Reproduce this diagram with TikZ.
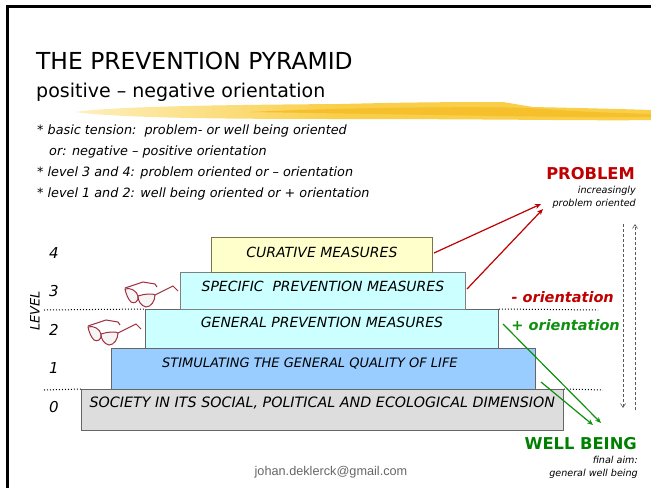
\documentclass[tikz,border=0pt]{standalone}
\usepackage{fontspec}
\setmainfont{DejaVu Sans}
\newfontfamily\mailfont{Liberation Sans}
\usetikzlibrary{arrows.meta}
\definecolor{probred}{HTML}{C00000}
\definecolor{wellgreen}{HTML}{008000}
\definecolor{arrowgreen}{HTML}{109010}
\definecolor{specs}{HTML}{A03040}
\definecolor{boxyellow}{HTML}{FFFFCC}
\definecolor{boxcyan}{HTML}{CCFFFF}
\definecolor{boxblue}{HTML}{99CCFF}
\definecolor{boxgray}{HTML}{DDDDDD}
\definecolor{brushpale}{HTML}{FDF0BE}
\definecolor{brushmid}{HTML}{F9CE48}
\definecolor{brushdark}{HTML}{F5C02C}
\tikzset{
  levelbox/.style={draw=#1, line width=.8pt, anchor=north west, inner sep=0pt, align=center, font=\fontsize{14}{16}\selectfont\itshape, text=black},
  leveldot/.style={dotted, line width=1pt, black},
  levelnum/.style={font=\fontsize{15}{18}\selectfont\itshape},
  intro/.style={anchor=base west, inner sep=0pt, font=\fontsize{12.8}{15}\selectfont\itshape},
  smalltext/.style={anchor=base east, inner sep=0pt, font=\fontsize{9.6}{12}\selectfont\itshape},
  redarrow/.style={probred, line width=1.2pt, -{Stealth[length=6pt,width=5pt]}},
  greenarrow/.style={arrowgreen, line width=1.2pt, -{Stealth[length=6pt,width=5pt]}},
  tensionline/.style={gray!70!black, densely dashed, line width=.6pt, -{Straight Barb[length=4pt,width=5pt]}},
}
\begin{document}
\begin{tikzpicture}[x=1pt, y=-1pt]
  \useasboundingbox (0,0) rectangle (651,488);
  % slide edge
  \fill[black] (6,5) rectangle (651,8);
  \fill[black] (6,5) rectangle (9,488);
  % brush stroke
  \shade[left color=brushpale, right color=brushmid]
    (75,112) .. controls (110,107) and (200,105) .. (340,104) -- (340,119) .. controls (220,119) and (120,118) .. cycle;
  \fill[brushmid] (340,104) .. controls (420,102) and (470,102) .. (503,102)
    -- (533,107) .. controls (580,108) and (620,109) .. (651,110) -- (651,120) .. controls (600,121) and (500,119) .. (340,119) -- cycle;
  \fill[brushdark] (250,112) .. controls (330,108) and (470,106) .. (530,108)
    .. controls (580,112) and (620,113) .. (651,114) -- (651,117) .. controls (580,118) and (450,115) .. cycle;
  % title
  \node[anchor=base west, inner sep=0pt, font=\fontsize{23.4}{26}\selectfont] (title) at (36,69) {THE PREVENTION PYRAMID};
  \node[anchor=base west, inner sep=0pt, font=\fontsize{19}{22}\selectfont] (subtitle) at (36,97) {positive – negative orientation};
  \node[intro] (introa) at (37,134) {* basic tension:\ \ problem- or well being oriented};
  \node[intro] (introb) at (49,155) {or: negative – positive orientation};
  \node[intro] (introc) at (37,176) {* level 3 and 4: problem oriented or – orientation};
  \node[intro] (introd) at (37,197) {* level 1 and 2: well being oriented or + orientation};
  % pyramid
  \node[levelbox=black!60, fill=boxgray, minimum width=482pt, minimum height=41pt, text height=10pt, text depth=14pt, font=\fontsize{14.3}{16}\selectfont\itshape] (society) at (81,389) {SOCIETY IN ITS SOCIAL, POLITICAL AND ECOLOGICAL DIMENSION};
  \node[levelbox=black!60, fill=boxblue, minimum width=424pt, minimum height=41pt, text height=10pt, text depth=12pt, font=\fontsize{13}{16}\selectfont\itshape] (quality) at (111,348) {STIMULATING THE GENERAL QUALITY OF LIFE\hspace{27pt}};
  \node[levelbox=black!60, fill=boxcyan, minimum width=353pt, minimum height=39pt, text height=10pt, text depth=12pt] (general) at (145,309) {GENERAL PREVENTION MEASURES};
  \node[levelbox=black!50, fill=boxcyan, minimum width=285pt, minimum height=37pt, text height=10pt, text depth=8pt] (specific) at (180,272) {SPECIFIC\ \ PREVENTION MEASURES};
  \node[levelbox=black!60!yellow, fill=boxyellow, minimum width=221pt, minimum height=35pt, text height=10pt, text depth=4pt] (curative) at (211,237) {CURATIVE MEASURES};
  % level numbers
  \foreach \n/\y in {4/258,3/296,2/335,1/373,0/412}
    \node[levelnum, anchor=base] (num\n) at (54,\y) {\n};
  \node[rotate=90, font=\fontsize{13}{15}\selectfont\itshape, inner sep=0pt] (level) at (35,311) {LEVEL};
  % dotted borders
  \draw[leveldot] (44,310) -- (general.north west);
  \draw[leveldot] (general.north east) -- (598,310);
  \draw[leveldot] (44,390) -- (society.north west);
  \draw[leveldot] (society.north east) -- (603,390);
  % glasses
  \foreach \gx/\gy in {0/0,-37/38} {
    \begin{scope}[shift={(\gx,\gy)}, specs, line width=1pt]
      \filldraw[fill=gray!8] (125,289) .. controls (130,287) and (137,291) .. (138,296) .. controls (139,302) and (134,304) .. (131,302) .. controls (128,299) and (126,294) .. cycle;
      \filldraw[fill=gray!8] (138,296) .. controls (144,294) and (153,293) .. (155,295) .. controls (155,301) and (151,307) .. (146,307) .. controls (141,306) and (138,301) .. cycle;
      \draw (125,288) -- (143,282) -- (155,284) -- (157,287);
      \draw (155,295) -- (173,286) -- (178,291);
    \end{scope}
  }
  % orientation labels
  \node[anchor=base east, inner sep=0pt, text=probred, font=\fontsize{14.5}{18}\selectfont\bfseries\itshape] (minus) at (614,302) {- orientation};
  \node[anchor=base east, inner sep=0pt, text=arrowgreen, font=\fontsize{14.5}{18}\selectfont\bfseries\itshape] (plus) at (620,330) {+ orientation};
  % problem side
  \node[anchor=base east, inner sep=0pt, text=probred, font=\fontsize{16.3}{20}\selectfont\bfseries] (problem) at (635,179) {PROBLEM};
  \node[smalltext] (probtexta) at (636,193) {increasingly};
  \node[smalltext] (probtextb) at (636,206) {problem oriented};
  \coordinate (curativeout) at (434,253);
  \coordinate (specificout) at (467,289);
  \coordinate (probtipa) at (541,204);
  \coordinate (probtipb) at (543,209);
  \draw[redarrow] (curativeout) -- (probtipa);
  \draw[redarrow] (specificout) -- (probtipb);
  % well being side
  \node[anchor=base east, inner sep=0pt, text=wellgreen, font=\fontsize{16.3}{20}\selectfont\bfseries] (well) at (637,449) {WELL BEING};
  \node[smalltext] (welltexta) at (638,463) {final aim:};
  \node[smalltext] (welltextb) at (638,476) {general well being};
  \coordinate (wellstarta) at (503,324);
  \coordinate (wellstartb) at (541,382);
  \coordinate (welltipa) at (601,423);
  \coordinate (welltipb) at (593,425);
  \draw[greenarrow] (wellstarta) -- (welltipa);
  \draw[greenarrow] (wellstartb) -- (welltipb);
  % tension arrows
  \coordinate (tensiontop) at (623,224);
  \coordinate (tensionbot) at (623,408);
  \coordinate (tensionup) at (635,224);
  \coordinate (tensiondown) at (635,410);
  \draw[tensionline] (tensiontop) -- (tensionbot);
  \draw[tensionline] (tensiondown) -- (tensionup);
  % address
  \node[anchor=base, inner sep=0pt, text=gray!80!black, font=\fontsize{12.7}{15}\selectfont\mailfont] (mail) at (331,475) {johan.deklerck@gmail.com};
\end{tikzpicture}
\end{document}
